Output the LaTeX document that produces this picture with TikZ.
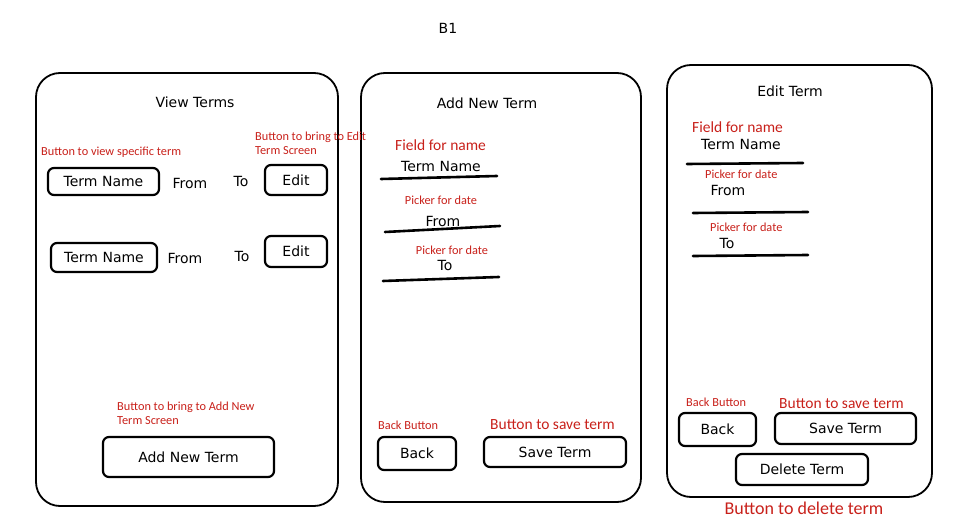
\documentclass[tikz,border=0pt]{standalone}
\usepackage{fontspec}
\setmainfont{DejaVu Sans}
\newfontfamily\notefont{Carlito}
\usetikzlibrary{positioning}
\definecolor{notered}{RGB}{200,32,26}
\tikzset{
  screen/.style={line width=1.8pt,rounded corners=24pt},
  btn/.style={draw,line width=2.2pt,rounded corners=6pt,inner sep=0pt,font=\fontsize{14}{16}\selectfont},
  hand/.style={inner sep=0pt,font=\fontsize{14}{16}\selectfont},
  note/.style={inner sep=0pt,text=notered,align=left,font=\notefont\fontsize{12.3}{14}\selectfont},
  bignote/.style={inner sep=0pt,text=notered,font=\notefont\fontsize{15.5}{17}\selectfont},
  field/.style={line width=2.6pt,line cap=round},
}
\begin{document}
\begin{tikzpicture}[x=1pt,y=-1pt]
	\useasboundingbox (0,0) rectangle (980,526);
	\node[hand] (title) at (448,28) {B1};
	
	%screens
	\draw[screen] (36,73) rectangle (338,506); %view terms
	\draw[screen] (361,73) rectangle (641,502); %add new term
	\draw[screen] (667,65) rectangle (932,497); %edit term
	
	%view terms screen
	\node[hand] (vtitle) at (195,102) {View Terms};
	\node[note,anchor=west] (vnote) at (41,152) {Button to view specific term};
	\node[note,anchor=north west] (enote) at (255,132) {Button to bring to Edit\\Term Screen};
	\node[btn,minimum width=111pt,minimum height=27pt] (name1) at (103.5,181.5) {Term Name};
	\node[hand] (from1) at (190,183) {From};
	\node[hand] (to1) at (241,181) {To};
	\node[btn,minimum width=62pt,minimum height=30pt] (edit1) at (296,180) {Edit};
	\node[btn,minimum width=106pt,minimum height=29pt] (name2) at (104,257.5) {Term Name};
	\node[hand] (from2) at (185,258) {From};
	\node[hand] (to2) at (242,256) {To};
	\node[btn,minimum width=62pt,minimum height=31pt] (edit2) at (296,251.5) {Edit};
	\node[note,anchor=north west] (anote) at (117,402) {Button to bring to Add New\\Term Screen};
	\node[btn,minimum width=171pt,minimum height=40pt] (addbtn) at (188.5,457) {Add New Term};
	
	%add new term screen
	\node[hand] (atitle) at (487,103) {Add New Term};
	\node[bignote,anchor=west] (afield) at (395,145) {Field for name};
	\node[hand] (aname) at (441,166) {Term Name};
	\draw[field] (381,179) -- (497,176);
	\node[note] (apick1) at (441,200) {Picker for date};
	\node[hand] (afrom) at (443,221) {From};
	\draw[field] (385,232) -- (500,226);
	\node[note] (apick2) at (452,250) {Picker for date};
	\node[hand] (ato) at (445,265) {To};
	\draw[field] (383,281) -- (499,277);
	\node[note,anchor=west] (abacknote) at (378,425) {Back Button};
	\node[bignote,anchor=west] (asavenote) at (490,425) {Button to save term};
	\node[btn,minimum width=78pt,minimum height=33pt] (aback) at (417,453.5) {Back};
	\node[btn,minimum width=142pt,minimum height=30pt] (asave) at (555,452) {Save Term};
	
	%edit term screen
	\node[hand] (etitle) at (790,91) {Edit Term};
	\node[bignote,anchor=west] (efield) at (692,127) {Field for name};
	\node[hand] (ename) at (741,144) {Term Name};
	\draw[field] (687,164) -- (803,163);
	\node[note,anchor=west] (epick1) at (705,174) {Picker for date};
	\node[hand] (efrom) at (728,190) {From};
	\draw[field] (693,213) -- (808,212);
	\node[note,anchor=west] (epick2) at (710,227) {Picker for date};
	\node[hand] (eto) at (727,243) {To};
	\draw[field] (693,256) -- (808,255);
	\node[note,anchor=west] (ebacknote) at (686,402) {Back Button};
	\node[bignote,anchor=west] (esavenote) at (779,404) {Button to save term};
	\node[btn,minimum width=77pt,minimum height=33pt] (eback) at (717.5,429.5) {Back};
	\node[btn,minimum width=141pt,minimum height=31pt] (esave) at (845.5,428.5) {Save Term};
	\node[btn,minimum width=132pt,minimum height=31pt] (edelete) at (802,469.5) {Delete Term};
	\node[bignote,font=\notefont\fontsize{18}{20}\selectfont] (delnote) at (804,508) {Button to delete term};
	
\end{tikzpicture}
\end{document}
